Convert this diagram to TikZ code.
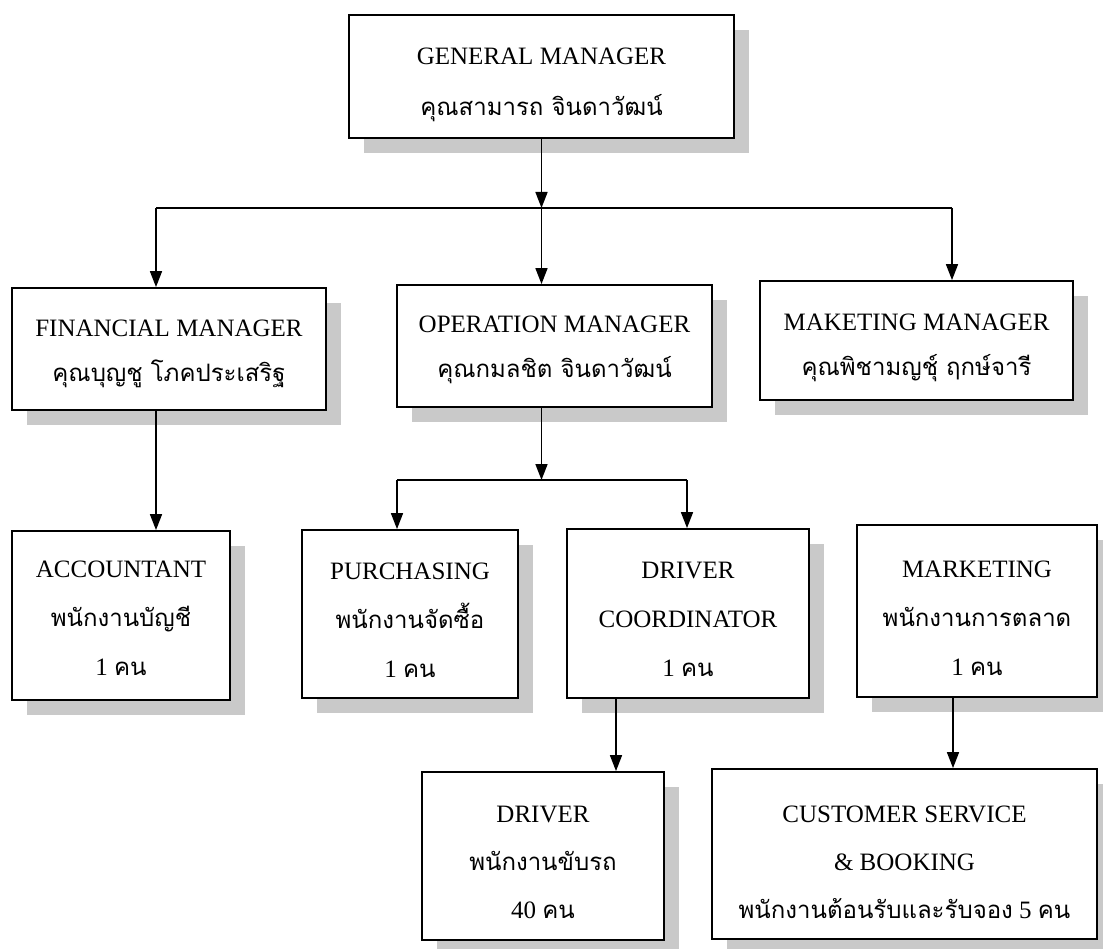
\documentclass[tikz,border=0pt]{standalone}
\usepackage{fontspec}
\setmainfont{Liberation Serif}
\newfontfamily\thai[Script=Thai,Scale=0.96]{Loma}
\usetikzlibrary{arrows.meta,shadows}
\begin{document}
\begin{tikzpicture}[x=1pt,y=-1pt,
  box/.style={draw,line width=1.8pt,fill=white,inner sep=0pt,
    drop shadow={shadow xshift=15pt,shadow yshift=-15pt,fill=gray!42,opacity=1}},
  txt/.style={align=center,inner sep=0pt,font=\fontsize{25}{45}\selectfont},
  txtb/.style={align=center,inner sep=0pt,font=\fontsize{25}{49}\selectfont},
  link/.style={line width=1.6pt},
  arr/.style={line width=1.6pt,-{Triangle[length=16pt,width=12pt]}}]
\useasboundingbox[fill=white] (0,0) rectangle (1103,949);

% boxes
\node[box,minimum width=385pt,minimum height=123pt] (gm) at (541.5,76.5) {};
\node[box,minimum width=314pt,minimum height=122pt] (fm) at (169,349) {};
\node[box,minimum width=315pt,minimum height=122pt] (op) at (554.5,346) {};
\node[box,minimum width=313pt,minimum height=119pt] (mm) at (916.5,340.5) {};
\node[box,minimum width=218pt,minimum height=169pt] (acc) at (121,615.5) {};
\node[box,minimum width=216pt,minimum height=168pt] (pur) at (410,614) {};
\node[box,minimum width=242pt,minimum height=169pt] (dc) at (688,613.5) {};
\node[box,minimum width=240pt,minimum height=172pt] (mkt) at (977,611) {};
\node[box,minimum width=242pt,minimum height=168pt] (drv) at (543,856) {};
\node[box,minimum width=385pt,minimum height=170pt] (cs) at (904.5,854) {};

% texts
\node[txt,font=\fontsize{25}{51}\selectfont] (gmt) at ([yshift=-8pt]gm.center)
  {GENERAL MANAGER\\{\thai คุณสามารถ จินดาวัฒน์}};
\node[txt] (fmt) at ([yshift=-5pt]fm.center)
  {FINANCIAL MANAGER\\{\thai คุณบุญชู โภคประเสริฐ}};
\node[txt] (opt) at ([yshift=-4pt]op.center)
  {OPERATION MANAGER\\{\thai คุณกมลชิต จินดาวัฒน์}};
\node[txt] (mmt) at ([yshift=-7pt]mm.center)
  {MAKETING MANAGER\\{\thai คุณพิชามญชุ์ ฤกษ์จารี}};
\node[txtb] (acct) at ([yshift=-3pt]acc.center)
  {ACCOUNTANT\\{\thai พนักงานบัญชี}\\1 {\thai คน}};
\node[txtb] (purt) at ([yshift=-6pt]pur.center)
  {PURCHASING\\{\thai พนักงานจัดซื้อ}\\1 {\thai คน}};
\node[txtb] (dct) at ([yshift=-6pt]dc.center)
  {DRIVER\\COORDINATOR\\1 {\thai คน}};
\node[txtb] (mktt) at ([yshift=-7pt]mkt.center)
  {MARKETING\\{\thai พนักงานการตลาด}\\1 {\thai คน}};
\node[txtb,font=\fontsize{25}{48}\selectfont] (drvt) at ([yshift=-6pt]drv.center)
  {DRIVER\\{\thai พนักงานขับรถ}\\40 {\thai คน}};
\node[txtb,font=\fontsize{25}{48}\selectfont] (cst) at ([yshift=-8pt]cs.center)
  {CUSTOMER SERVICE\\\& BOOKING\\{\thai พนักงานต้อนรับและรับจอง} 5 {\thai คน}};

% level 1 connectors
\coordinate (j1) at (541.5,208);
\coordinate (hL) at (156,208);
\coordinate (hR) at (952,208);
\draw[link] (hL) -- (hR);
\draw[arr] (gm.south) -- (j1);
\draw[arr] (j1) -- (j1 |- op.north);
\draw[arr] (hL) -- (hL |- fm.north);
\draw[arr] (hR) -- (hR |- mm.north);

% financial
\draw[arr] (hL |- fm.south) -- (hL |- acc.north);

% operation
\coordinate (j2) at (541.5,480);
\coordinate (kL) at (397,480);
\coordinate (kR) at (687,480);
\draw[link] (kL) -- (kR);
\draw[arr] (j1 |- op.south) -- (j2);
\draw[arr] (kL) -- (kL |- pur.north);
\draw[arr] (kR) -- (kR |- dc.north);

% lower
\coordinate (dd) at ([xshift=-72pt]dc.south);
\coordinate (md) at ([xshift=-24pt]mkt.south);
\draw[arr] (dd) -- (dd |- drv.north);
\draw[arr] (md) -- (md |- cs.north);
\end{tikzpicture}
\end{document}
